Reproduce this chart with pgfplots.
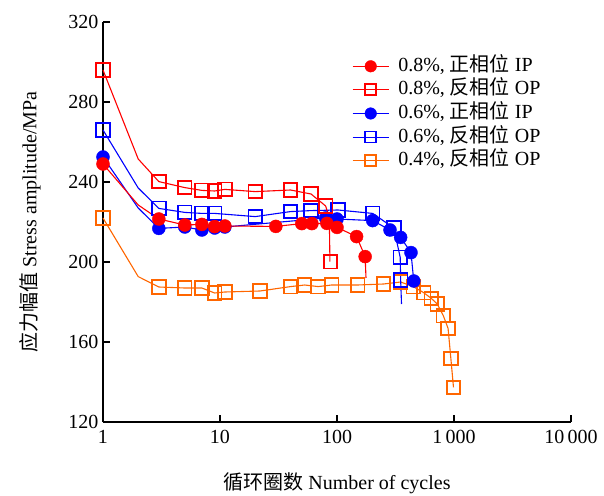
\documentclass[border=0pt]{standalone}
\usepackage{fontspec}
\setmainfont{Liberation Serif}
\newfontfamily\cjk{Noto Sans CJK SC}
\usepackage{pgfplots}
\pgfplotsset{compat=1.18}
\definecolor{myorange}{RGB}{255,102,0}
\definecolor{myred}{RGB}{255,0,0}
\definecolor{myblue}{RGB}{0,0,255}
\pgfplotsset{
  legc/.style={legend image code/.code={\draw[#1,line width=1.1pt](0pt,0pt)--(36pt,0pt);\fill[#1](18pt,0pt) circle (5.8pt);}},
  legs/.style={legend image code/.code={\draw[#1,line width=1.1pt](0pt,0pt)--(36pt,0pt);\draw[#1,line width=1.8pt](12.5pt,-5.5pt) rectangle (23.5pt,5.5pt);}},
  ln/.style={line width=1.1pt, forget plot},
  circ/.style={only marks, mark=*, mark size=6.5pt, mark options={fill=#1, draw=#1, line width=0.4pt}, forget plot},
  sq/.style={only marks, mark=square, mark size=6.8pt, mark options={draw=#1, fill=none, line width=1.8pt}, forget plot},
}
\begin{document}
\begin{tikzpicture}
\begin{axis}[
  scale only axis, width=468pt, height=400pt,
  xmode=log, xmin=1, xmax=10000, ymin=120, ymax=320,
  axis x line*=bottom, axis y line*=left,
  axis line style={line width=2.2pt, -},
  xtick={1,10,100,1000,10000}, xticklabels={1,10,100,1\,000,10\,000},
  ytick={120,160,200,240,280,320},
  xminorticks=false, yminorticks=false,
  tick align=inside, major tick length=7pt,
  tick style={line width=2pt, black},
  font=\fontsize{20}{24}\selectfont,
  xticklabel style={yshift=-5pt},
  yticklabel style={xshift=-1pt},
  /pgf/number format/assume math mode=true,
  xlabel={{\cjk 循环圈数} Number of cycles},
  ylabel={{\cjk 应力幅值} Stress amplitude/MPa},
  xlabel style={at={(axis description cs:0.5,-0.1525)}, anchor=center},
  ylabel style={at={(axis description cs:-0.156,0.5)}, anchor=center},
  clip=false,
  legend style={at={(axis description cs:0.532,0.916)}, anchor=north west, draw=none, fill=none, inner sep=0pt,
    font=\fontsize{20}{24}\selectfont, row sep=2.6pt,
    nodes={inner ysep=1pt, inner xsep=3pt, text height=14.5pt, text depth=4.5pt},
    /tikz/every odd column/.append style={column sep=6pt}},
  legend cell align=left,
]
% ---- lines ----
\addplot[myorange, ln] coordinates {(1,222) (2,192.7) (3,187.5) (5,187) (7,187) (9,184.5) (11,185) (22,185.5) (40,187.7) (53,188.5) (69,187.7) (90,188.5) (150,188.5) (250,189) (350,190) (448,187.7) (550,184.7) (640,181.8) (720,179) (810,173.2) (890,166.8) (940,151.8) (990,137.3)};
\addplot[myblue, ln] coordinates {(1,266) (2,237) (3,226.8) (5,224.8) (7,224.3) (9,224.3) (20,222.7) (40,225.2) (60,225.7) (102,226) (202,224.3) (306,217) (347,202.3) (350,191) (356,179)};
\addplot[myblue, ln] coordinates {(1,252.5) (2,227) (3,216.8) (5,217.5) (7,216) (9,217) (11,217.5) (80,222) (100,221.5) (202,220.7) (284,216) (350,212.3) (429,204.7) (453,190.5)};
\addplot[myred, ln] coordinates {(1,296) (2,251.5) (3,240.2) (5,237.2) (7,235.8) (9,235.5) (11,236.3) (20,235.2) (40,236) (60,234) (80,228) (86,222) (87,200.2)};
\addplot[myred, ln] coordinates {(1,249) (2,228.5) (3,221.5) (5,218.5) (7,218.8) (9,217.7) (11,218) (30,217.8) (50,219.2) (61,219.2) (82,219.3) (100,217.3) (147,212.7) (174,202.7) (177,192)};
% ---- marks ----
\addplot[sq=myorange] coordinates {(1,222) (3,187.5) (5,187) (7,187) (9,184.5) (11,185) (22,185.5) (40,187.7) (53,188.5) (69,187.7) (90,188.5) (150,188.5) (250,189) (350,190) (448,187.7) (550,184.7) (640,181.8) (720,179) (810,173.2) (890,166.8) (940,151.8) (990,137.3)};
\addplot[sq=myblue] coordinates {(1,266) (3,226.8) (5,224.8) (7,224.3) (9,224.3) (20,222.7) (40,225.2) (60,225.7) (102,226) (202,224.3) (306,217) (347,202.3) (350,191)};
\addplot[circ=myblue] coordinates {(1,252.5) (3,216.8) (5,217.5) (7,216) (9,217) (11,217.5) (80,222) (100,221.5) (202,220.7) (284,216) (350,212.3) (429,204.7) (453,190.5)};
\addplot[sq=myred] coordinates {(1,296) (3,240.2) (5,237.2) (7,235.8) (9,235.5) (11,236.3) (20,235.2) (40,236) (60,234) (80,228) (88,200.2)};
\addplot[circ=myred] coordinates {(1,249) (3,221.5) (5,218.5) (7,218.8) (9,217.7) (11,218) (30,217.8) (50,219.2) (61,219.2) (82,219.3) (100,217.3) (147,212.7) (174,202.7)};
% ---- legend ----
\addlegendimage{legc=myred}
\addlegendimage{legs=myred}
\addlegendimage{legc=myblue}
\addlegendimage{legs=myblue}
\addlegendimage{legs=myorange}
\legend{{0.8\%, {\cjk 正相位} IP},{0.8\%, {\cjk 反相位} OP},{0.6\%, {\cjk 正相位} IP},{0.6\%, {\cjk 反相位} OP},{0.4\%, {\cjk 反相位} OP}}
\coordinate (O) at (rel axis cs:0,0);
\coordinate (T) at (rel axis cs:1,1);
\end{axis}
\pgfresetboundingbox
\path ([shift={(-103pt,-73pt)}]O) rectangle ([shift={(33pt,22pt)}]T);
\end{tikzpicture}
\end{document}
